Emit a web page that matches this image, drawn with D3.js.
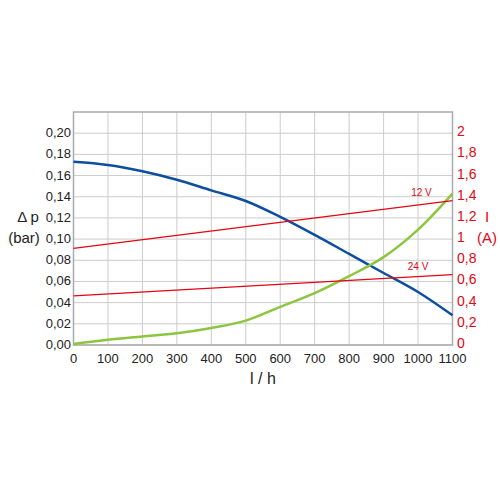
<!DOCTYPE html><html><head><meta charset="utf-8"><script src="https://cdn.jsdelivr.net/npm/d3@7"></script>
<style>body{margin:0;background:#fff}text{font-family:"Liberation Sans",Arial,sans-serif}</style></head><body><svg id="c" width="500" height="500"></svg><script>
const flow=[0,100,200,300,400,500,600,700,800,900,1000,1100];
const pressure=[0.173,0.170,0.164,0.156,0.146,0.136,0.121,0.104,0.086,0.068,0.050,0.028];
const green=[0.001,0.005,0.008,0.011,0.016,0.023,0.036,0.049,0.065,0.083,0.109,0.143];
const cur12=[[0,0.913],[1100,1.364]];
const cur24=[[0,0.463],[1100,0.665]];
const xTicks=d3.range(0,1101,100);
const yTicks=d3.range(0,0.201,0.02);
const rTicks=[0,0.2,0.4,0.6,0.8,1,1.2,1.4,1.6,1.8,2];
const svg=d3.select("#c");
const x=d3.scaleLinear().domain([0,1100]).range([73.5,452.5]);
const y=d3.scaleLinear().domain([0,0.22]).range([345,112]);
const yr=d3.scaleLinear().domain([0,2.2]).range([345,112]);
const fmt=d=>d3.format(".2f")(d).replace(".",",");
const g=svg.append("g");
g.selectAll(".v").data(xTicks).join("line").attr("x1",d=>x(d)).attr("x2",d=>x(d)).attr("y1",112).attr("y2",345).attr("stroke","#ccc");
g.selectAll(".h").data(yTicks).join("line").attr("x1",73.5).attr("x2",452.5).attr("y1",d=>y(d)).attr("y2",d=>y(d)).attr("stroke","#ccc");
g.append("rect").attr("x",73.5).attr("y",112).attr("width",379).attr("height",233).attr("fill","none").attr("stroke","#aaa").attr("stroke-width",1.5);
const line=d3.line().x((d,i)=>x(flow[i])).y(d=>y(d)).curve(d3.curveCatmullRom);
svg.append("path").attr("d",line(pressure)).attr("fill","none").attr("stroke","#0d4ea0").attr("stroke-width",2.5);
svg.append("path").attr("d",line(green)).attr("fill","none").attr("stroke","#8cc63f").attr("stroke-width",2.5);
const rl=d3.line().x(d=>x(d[0])).y(d=>yr(d[1]));
[cur12,cur24].forEach(c=>svg.append("path").attr("d",rl(c)).attr("fill","none").attr("stroke","#e30613").attr("stroke-width",1.3));
svg.append("text").attr("x",x(1010)).attr("y",yr(1.41)).attr("font-size",10).attr("fill","#e30613").attr("text-anchor","middle").text("12 V");
svg.append("text").attr("x",x(1000)).attr("y",yr(0.71)).attr("font-size",10).attr("fill","#e30613").attr("text-anchor","middle").text("24 V");
svg.selectAll(".xt").data(xTicks).join("text").attr("x",d=>x(d)).attr("y",363).attr("text-anchor","middle").attr("font-size",13).attr("fill","#222").text(d=>d);
svg.selectAll(".yt").data(yTicks).join("text").attr("x",71).attr("y",d=>y(d)+4).attr("text-anchor","end").attr("font-size",13).attr("fill","#222").text(fmt);
svg.selectAll(".rt").data(rTicks).join("text").attr("x",457).attr("y",d=>yr(d)+3).attr("font-size",14).attr("fill","#e30613").text(d=>String(d).replace(".",","));
svg.append("text").attr("x",28).attr("y",222).attr("text-anchor","middle").attr("font-size",15).attr("fill","#222").text("Δ p");
svg.append("text").attr("x",24).attr("y",243).attr("text-anchor","middle").attr("font-size",15).attr("fill","#222").text("(bar)");
svg.append("text").attr("x",487).attr("y",222).attr("text-anchor","middle").attr("font-size",15).attr("fill","#e30613").text("I");
svg.append("text").attr("x",487).attr("y",243).attr("text-anchor","middle").attr("font-size",15).attr("fill","#e30613").text("(A)");
svg.append("text").attr("x",263).attr("y",384).attr("text-anchor","middle").attr("font-size",16).attr("fill","#222").text("l / h");
</script></body></html>
